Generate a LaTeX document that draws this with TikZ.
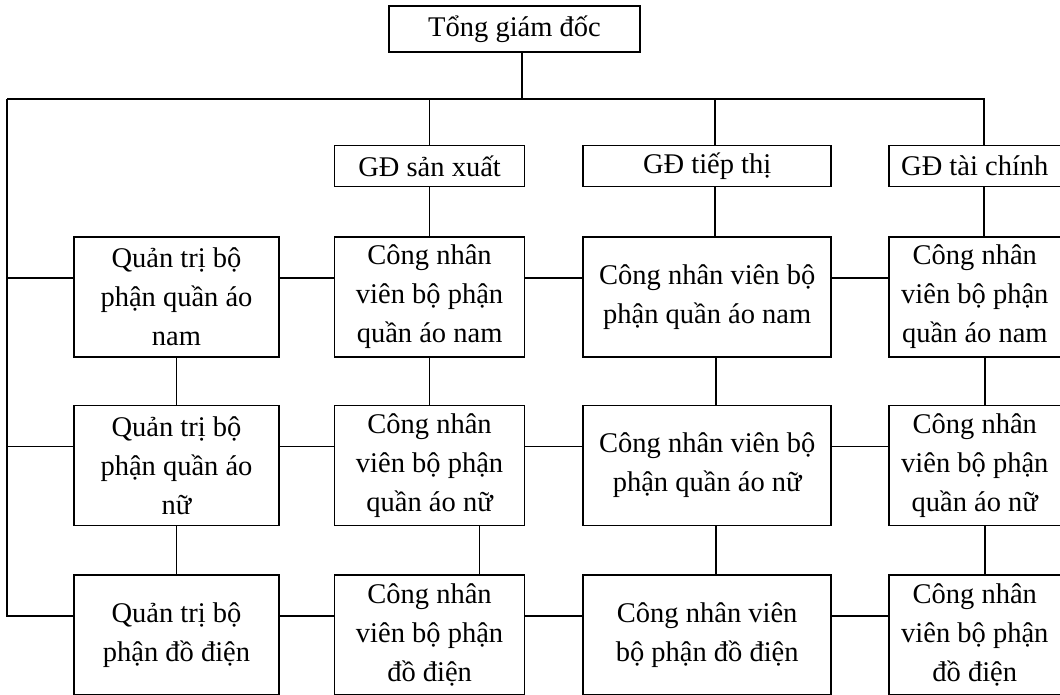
\documentclass[tikz,border=0pt]{standalone}
\usepackage{fontspec}
\setmainfont{Liberation Serif}
\usetikzlibrary{positioning}

\begin{document}
\begin{tikzpicture}[
    x=1pt, y=-1pt,
    line width=1.6pt,
    box/.style={rectangle, draw, minimum height=120pt, inner sep=1pt, align=center, font=\fontsize{28.5}{39}\selectfont},
    head/.style={rectangle, draw, minimum height=41pt, inner sep=1pt, align=center, font=\fontsize{28.5}{34}\selectfont},
    colq/.style={minimum width=205pt},
    cols/.style={minimum width=190pt},
    colt/.style={minimum width=248pt},
    colf/.style={minimum width=172pt}
]
\useasboundingbox (0,0) rectangle (1060,695);

\node[head, minimum width=251pt, minimum height=46pt] (tgd) at (514.5,29) {Tổng giám đốc};
\coordinate (lft) at (7,99);

\node[box, colq] (q1) at (176.5,297) {Quản trị bộ\\phận quần áo\\nam};
\node[box, colq, below=47pt of q1] (q2) {Quản trị bộ\\phận quần áo\\nữ};
\node[box, colq, below=48pt of q2] (q3) {Quản trị bộ\\phận đồ điện};

\node[box, cols, right=54pt of q1] (s1) {Công nhân\\viên bộ phận\\quần áo nam};
\node[box, cols, right=54pt of q2] (s2) {Công nhân\\viên bộ phận\\quần áo nữ};
\node[box, cols, right=54pt of q3] (s3) {Công nhân\\viên bộ phận\\đồ điện};

\node[box, colt, right=57pt of s1] (t1) {Công nhân viên bộ\\phận quần áo nam};
\node[box, colt, right=57pt of s2] (t2) {Công nhân viên bộ\\phận quần áo nữ};
\node[box, colt, right=57pt of s3] (t3) {Công nhân viên\\bộ phận đồ điện};

\node[box, colf, right=56pt of t1] (f1) {Công nhân\\viên bộ phận\\quần áo nam};
\node[box, colf, right=56pt of t2] (f2) {Công nhân\\viên bộ phận\\quần áo nữ};
\node[box, colf, right=56pt of t3] (f3) {Công nhân\\viên bộ phận\\đồ điện};

\node[head, cols, above=49pt of s1] (gd1) {GĐ sản xuất};
\node[head, colt, above=49pt of t1] (gd2) {GĐ tiếp thị};
\node[head, colf, above=49pt of f1] (gd3) {GĐ tài chính};

\draw ([xshift=7.5pt]tgd.south) -- ([xshift=7.5pt]tgd.south |- lft);
\draw (lft) -| ([xshift=9pt]gd3.north);
\draw (gd1.north) -- (gd1.north |- lft);
\draw ([xshift=8pt]gd2.north) -- ([xshift=8pt]gd2.north |- lft);

\draw (gd1) -- (s1);
\draw ([xshift=8pt]gd2.south) -- ([xshift=8pt]t1.north);
\draw ([xshift=9pt]gd3.south) -- ([xshift=9pt]f1.north);

\foreach \r in {1,2,3} {
  \draw (lft) |- ([yshift=19pt]q\r.west);
  \draw ([yshift=19pt]q\r.east) -- ([yshift=19pt]s\r.west);
  \draw ([yshift=19pt]s\r.east) -- ([yshift=19pt]t\r.west);
  \draw ([yshift=19pt]t\r.east) -- ([yshift=19pt]f\r.west);
}

\foreach \a/\b in {1/2,2/3} {
  \draw (q\a) -- (q\b);
  \draw ([xshift=9pt]t\a.south) -- ([xshift=9pt]t\b.north);
  \draw ([xshift=10pt]f\a.south) -- ([xshift=10pt]f\b.north);
}
\draw (s1) -- (s2);
\draw ([xshift=50pt]s2.south) -- ([xshift=50pt]s3.north);
\end{tikzpicture}
\end{document}
